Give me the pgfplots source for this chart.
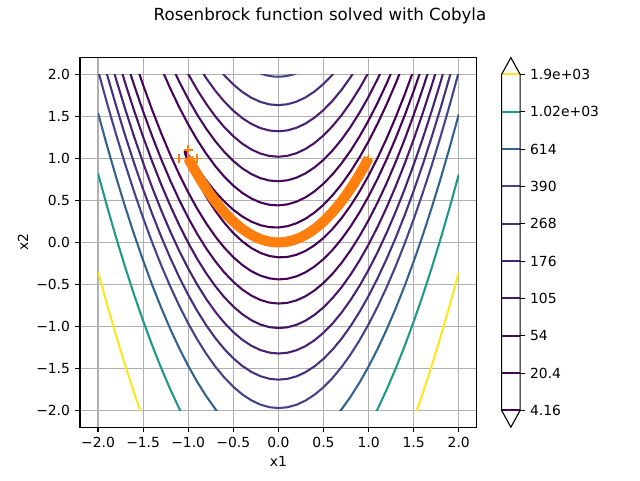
\documentclass[border=0pt]{standalone}
\usepackage{pgfplots}
\usepackage{pgfplotstable}
\pgfplotsset{compat=1.18}
\usepackage{fontspec}
\setmainfont{DejaVu Sans}
\definecolor{cA}{HTML}{440154}
\definecolor{cB}{HTML}{450457}
\definecolor{cC}{HTML}{460A5D}
\definecolor{cD}{HTML}{481467}
\definecolor{cE}{HTML}{482173}
\definecolor{cF}{HTML}{46307E}
\definecolor{cG}{HTML}{414487}
\definecolor{cH}{HTML}{33638D}
\definecolor{cI}{HTML}{1F988B}
\definecolor{cJ}{HTML}{FDE725}
\definecolor{mplorange}{HTML}{FF7F0E}
\definecolor{gridgray}{HTML}{B0B0B0}
\newcommand{\tf}{\fontsize{10.42}{12.5}\selectfont}
% optimizer iterates along the valley
\pgfplotstableread{
x y
-1 1
-0.99 0.9801
-0.98 0.9604
-0.97 0.9409
-0.96 0.9216
-0.95 0.9025
-0.94 0.8836
-0.93 0.8649
-0.92 0.8464
-0.91 0.8281
-0.9 0.81
-0.89 0.7921
-0.88 0.7744
-0.87 0.7569
-0.86 0.7396
-0.85 0.7225
-0.84 0.7056
-0.83 0.6889
-0.82 0.6724
-0.81 0.6561
-0.8 0.64
-0.79 0.6241
-0.78 0.6084
-0.77 0.5929
-0.76 0.5776
-0.75 0.5625
-0.74 0.5476
-0.73 0.5329
-0.72 0.5184
-0.71 0.5041
-0.7 0.49
-0.69 0.4761
-0.68 0.4624
-0.67 0.4489
-0.66 0.4356
-0.65 0.4225
-0.64 0.4096
-0.63 0.3969
-0.62 0.3844
-0.61 0.3721
-0.6 0.36
-0.59 0.3481
-0.58 0.3364
-0.57 0.3249
-0.56 0.3136
-0.55 0.3025
-0.54 0.2916
-0.53 0.2809
-0.52 0.2704
-0.51 0.2601
-0.5 0.25
-0.49 0.2401
-0.48 0.2304
-0.47 0.2209
-0.46 0.2116
-0.45 0.2025
-0.44 0.1936
-0.43 0.1849
-0.42 0.1764
-0.41 0.1681
-0.4 0.16
-0.39 0.1521
-0.38 0.1444
-0.37 0.1369
-0.36 0.1296
-0.35 0.1225
-0.34 0.1156
-0.33 0.1089
-0.32 0.1024
-0.31 0.0961
-0.3 0.09
-0.29 0.0841
-0.28 0.0784
-0.27 0.0729
-0.26 0.0676
-0.25 0.0625
-0.24 0.0576
-0.23 0.0529
-0.22 0.0484
-0.21 0.0441
-0.2 0.04
-0.19 0.0361
-0.18 0.0324
-0.17 0.0289
-0.16 0.0256
-0.15 0.0225
-0.14 0.0196
-0.13 0.0169
-0.12 0.0144
-0.11 0.0121
-0.1 0.01
-0.09 0.0081
-0.08 0.0064
-0.07 0.0049
-0.06 0.0036
-0.05 0.0025
-0.04 0.0016
-0.03 0.0009
-0.02 0.0004
-0.01 0.0001
0 0
0.01 0.0001
0.02 0.0004
0.03 0.0009
0.04 0.0016
0.05 0.0025
0.06 0.0036
0.07 0.0049
0.08 0.0064
0.09 0.0081
0.1 0.01
0.11 0.0121
0.12 0.0144
0.13 0.0169
0.14 0.0196
0.15 0.0225
0.16 0.0256
0.17 0.0289
0.18 0.0324
0.19 0.0361
0.2 0.04
0.21 0.0441
0.22 0.0484
0.23 0.0529
0.24 0.0576
0.25 0.0625
0.26 0.0676
0.27 0.0729
0.28 0.0784
0.29 0.0841
0.3 0.09
0.31 0.0961
0.32 0.1024
0.33 0.1089
0.34 0.1156
0.35 0.1225
0.36 0.1296
0.37 0.1369
0.38 0.1444
0.39 0.1521
0.4 0.16
0.41 0.1681
0.42 0.1764
0.43 0.1849
0.44 0.1936
0.45 0.2025
0.46 0.2116
0.47 0.2209
0.48 0.2304
0.49 0.2401
0.5 0.25
0.51 0.2601
0.52 0.2704
0.53 0.2809
0.54 0.2916
0.55 0.3025
0.56 0.3136
0.57 0.3249
0.58 0.3364
0.59 0.3481
0.6 0.36
0.61 0.3721
0.62 0.3844
0.63 0.3969
0.64 0.4096
0.65 0.4225
0.66 0.4356
0.67 0.4489
0.68 0.4624
0.69 0.4761
0.7 0.49
0.71 0.5041
0.72 0.5184
0.73 0.5329
0.74 0.5476
0.75 0.5625
0.76 0.5776
0.77 0.5929
0.78 0.6084
0.79 0.6241
0.8 0.64
0.81 0.6561
0.82 0.6724
0.83 0.6889
0.84 0.7056
0.85 0.7225
0.86 0.7396
0.87 0.7569
0.88 0.7744
0.89 0.7921
0.9 0.81
0.91 0.8281
0.92 0.8464
0.93 0.8649
0.94 0.8836
0.95 0.9025
0.96 0.9216
0.97 0.9409
0.98 0.9604
0.99 0.9801
1 1
}\pathdata
\begin{document}
\begin{tikzpicture}
\useasboundingbox (0,0) rectangle (480pt,360pt);
% ---------------- main axis (frame, grid, ticks) ----------------
\begin{axis}[
  at={(60pt,39.6pt)}, anchor=south west,
  scale only axis, width=297.6pt, height=277.2pt,
  xmin=-2.2, xmax=2.2, ymin=-2.2, ymax=2.2,
  xtick={-2,-1.5,-1,-0.5,0,0.5,1,1.5,2},
  ytick={-2,-1.5,-1,-0.5,0,0.5,1,1.5,2},
  xticklabels={−2.0,−1.5,−1.0,−0.5,0.0,0.5,1.0,1.5,2.0},
  yticklabels={−2.0,−1.5,−1.0,−0.5,0.0,0.5,1.0,1.5,2.0},
  tick pos=left, tick align=outside,
  major tick length=3.65pt,
  tick style={black, line width=0.83pt},
  grid=major,
  major grid style={draw=gridgray, line width=0.83pt},
  axis line style={line width=0.83pt},
  xticklabel shift=3.65pt,
  yticklabel shift=3.65pt,
  xticklabel style={font=\tf, anchor=north, inner sep=0pt},
  yticklabel style={font=\tf, anchor=east, inner sep=0pt},
]
\addplot[draw=none] coordinates {(0,0)};
\end{axis}
% ---------------- contour lines and optimizer path ----------------
\begin{axis}[
  at={(73.527pt,52.2pt)}, anchor=south west,
  scale only axis, width=270.545pt, height=252pt,
  xmin=-2, xmax=2, ymin=-2, ymax=2,
  hide axis, clip=true,
  every axis plot/.append style={line width=1.56pt, line join=round},
]
% level 4.16
\addplot[cA] coordinates {(1.4,2.16) (1.3,1.8917) (1.2,1.6430) (1.1,1.4137) (1.0,1.204) (0.9,1.0137) (0.8,0.8430) (0.7,0.6917) (0.6,0.56) (0.5,0.4477) (0.4,0.3549) (0.3,0.2816) (0.2,0.2276) (0.1,0.1930) (0,0.1778) (-0.1,0.1818) (-0.2,0.2049) (-0.3,0.2472) (-0.4,0.3083) (-0.5,0.3882) (-0.6,0.4865) (-0.7,0.6027) (-0.8,0.7359) (-0.9,0.8842) (-1.0,1.04) (-1.02,1.0686) (-1.03,1.0807) (-1.035,1.0849) (-1.0396,1.0808) (-1.035,1.0575) (-1.03,1.0411) (-1.02,1.0122) (-1.0,0.96) (-0.9,0.7358) (-0.8,0.5441) (-0.7,0.3773) (-0.6,0.2335) (-0.5,0.1118) (-0.4,0.0117) (-0.3,-0.0672) (-0.2,-0.1249) (-0.1,-0.1618) (0,-0.1778) (0.1,-0.1730) (0.2,-0.1476) (0.3,-0.1016) (0.4,-0.0349) (0.5,0.0523) (0.6,0.16) (0.7,0.2883) (0.8,0.4370) (0.9,0.6063) (1.0,0.796) (1.1,1.0063) (1.2,1.2370) (1.3,1.4883) (1.4,1.76) (1.5,2.0523)};
% level 20.4
\addplot[cB] coordinates {(-1.3,2.0787) (-1.2,1.8345) (-1.1,1.6099) (-1.0,1.405) (-0.9,1.2198) (-0.8,1.0543) (-0.7,0.9085) (-0.6,0.7824) (-0.5,0.6760) (-0.4,0.5894) (-0.3,0.5226) (-0.2,0.4754) (-0.1,0.4481) (0,0.4405) (0.1,0.4526) (0.2,0.4845) (0.3,0.5362) (0.4,0.6077) (0.5,0.6989) (0.6,0.8099) (0.7,0.9407) (0.8,1.0912) (0.9,1.2616) (1.0,1.4517) (1.1,1.6616) (1.2,1.8912) (1.3,2.1407)};
\addplot[cB] coordinates {(-1.6,2.1907) (-1.5,1.8738) (-1.4,1.5774) (-1.3,1.3013) (-1.2,1.0455) (-1.1,0.8101) (-1.0,0.595) (-0.9,0.4002) (-0.8,0.2257) (-0.7,0.0715) (-0.6,-0.0624) (-0.5,-0.1760) (-0.4,-0.2694) (-0.3,-0.3426) (-0.2,-0.3954) (-0.1,-0.4281) (0,-0.4405) (0.1,-0.4326) (0.2,-0.4045) (0.3,-0.3562) (0.4,-0.2877) (0.5,-0.1989) (0.6,-0.0899) (0.7,0.0393) (0.8,0.1888) (0.9,0.3584) (1.0,0.5483) (1.1,0.7584) (1.2,0.9888) (1.3,1.2393) (1.4,1.5101) (1.5,1.8011) (1.6,2.1123)};
% level 54
\addplot[cC] coordinates {(-1.2,2.1411) (-1.1,1.9142) (-1.0,1.7071) (-0.9,1.5199) (-0.8,1.3525) (-0.7,1.2049) (-0.6,1.0772) (-0.5,0.9694) (-0.4,0.8814) (-0.3,0.8133) (-0.2,0.7650) (-0.1,0.7366) (0,0.7280) (0.1,0.7393) (0.2,0.7705) (0.3,0.8215) (0.4,0.8924) (0.5,0.9831) (0.6,1.0938) (0.7,1.2242) (0.8,1.3746) (0.9,1.5448) (1.0,1.7348) (1.1,1.9448) (1.2,2.1746)};
\addplot[cC] coordinates {(-1.7,2.2066) (-1.6,1.8727) (-1.5,1.5590) (-1.4,1.2655) (-1.3,0.9921) (-1.2,0.7389) (-1.1,0.5058) (-1.0,0.2929) (-0.9,0.1001) (-0.8,-0.0725) (-0.7,-0.2249) (-0.6,-0.3572) (-0.5,-0.4694) (-0.4,-0.5614) (-0.3,-0.6333) (-0.2,-0.6850) (-0.1,-0.7166) (0,-0.7280) (0.1,-0.7193) (0.2,-0.6905) (0.3,-0.6415) (0.4,-0.5724) (0.5,-0.4831) (0.6,-0.3738) (0.7,-0.2442) (0.8,-0.0946) (0.9,0.0752) (1.0,0.2652) (1.1,0.4752) (1.2,0.7054) (1.3,0.9558) (1.4,1.2262) (1.5,1.5169) (1.6,1.8276) (1.7,2.1585)};
% level 105
\addplot[cD] coordinates {(-1.1,2.2129) (-1.0,2.005) (-0.9,1.8169) (-0.8,1.6488) (-0.7,1.5005) (-0.6,1.3721) (-0.5,1.2637) (-0.4,1.1751) (-0.3,1.1064) (-0.2,1.0577) (-0.1,1.0288) (0,1.0198) (0.1,1.0307) (0.2,1.0616) (0.3,1.1123) (0.4,1.1829) (0.5,1.2735) (0.6,1.3839) (0.7,1.5143) (0.8,1.6645) (0.9,1.8347) (1.0,2.0247) (1.1,2.2347)};
\addplot[cD] coordinates {(-1.8,2.2543) (-1.7,1.9015) (-1.6,1.5688) (-1.5,1.2563) (-1.4,0.9638) (-1.3,0.6915) (-1.2,0.4392) (-1.1,0.2071) (-1.0,-0.0050) (-0.9,-0.1969) (-0.8,-0.3688) (-0.7,-0.5205) (-0.6,-0.6521) (-0.5,-0.7637) (-0.4,-0.8551) (-0.3,-0.9264) (-0.2,-0.9777) (-0.1,-1.0088) (0,-1.0198) (0.1,-1.0107) (0.2,-0.9816) (0.3,-0.9323) (0.4,-0.8629) (0.5,-0.7735) (0.6,-0.6639) (0.7,-0.5343) (0.8,-0.3845) (0.9,-0.2147) (1.0,-0.0247) (1.1,0.1853) (1.2,0.4155) (1.3,0.6657) (1.4,0.9361) (1.5,1.2265) (1.6,1.5371) (1.7,1.8677) (1.8,2.2184)};
% level 176
\addplot[cE] coordinates {(-0.9,2.1230) (-0.8,1.9544) (-0.7,1.8057) (-0.6,1.6770) (-0.5,1.5681) (-0.4,1.4792) (-0.3,1.4103) (-0.2,1.3612) (-0.1,1.3321) (0,1.3229) (0.1,1.3336) (0.2,1.3642) (0.3,1.4148) (0.4,1.4853) (0.5,1.5757) (0.6,1.6860) (0.7,1.8163) (0.8,1.9665) (0.9,2.1366)};
\addplot[cE] coordinates {(-1.9,2.3154) (-1.8,1.9432) (-1.7,1.5911) (-1.6,1.2591) (-1.5,0.9471) (-1.4,0.6552) (-1.3,0.3834) (-1.2,0.1317) (-1.1,-0.0999) (-1.0,-0.3115) (-0.9,-0.5030) (-0.8,-0.6744) (-0.7,-0.8257) (-0.6,-0.9570) (-0.5,-1.0681) (-0.4,-1.1592) (-0.3,-1.2303) (-0.2,-1.2812) (-0.1,-1.3121) (0,-1.3229) (0.1,-1.3136) (0.2,-1.2842) (0.3,-1.2348) (0.4,-1.1653) (0.5,-1.0757) (0.6,-0.9660) (0.7,-0.8363) (0.8,-0.6865) (0.9,-0.5166) (1.0,-0.3266) (1.1,-0.1166) (1.2,0.1135) (1.3,0.3637) (1.4,0.6340) (1.5,0.9243) (1.6,1.2347) (1.7,1.5652) (1.8,1.9158) (1.9,2.2864)};
% level 268
\addplot[cF] coordinates {(-0.7,2.1182) (-0.6,1.9892) (-0.5,1.8802) (-0.4,1.7911) (-0.3,1.7219) (-0.2,1.6727) (-0.1,1.6434) (0,1.6340) (0.1,1.6446) (0.2,1.6751) (0.3,1.7256) (0.4,1.7960) (0.5,1.8863) (0.6,1.9966) (0.7,2.1268)};
\addplot[cF] coordinates {(-2.0,2.3907) (-1.9,1.9988) (-1.8,1.6271) (-1.7,1.2753) (-1.6,0.9437) (-1.5,0.6321) (-1.4,0.3406) (-1.3,0.0692) (-1.2,-0.1822) (-1.1,-0.4135) (-1.0,-0.6248) (-0.9,-0.8160) (-0.8,-0.9871) (-0.7,-1.1382) (-0.6,-1.2692) (-0.5,-1.3802) (-0.4,-1.4711) (-0.3,-1.5419) (-0.2,-1.5927) (-0.1,-1.6234) (0,-1.6340) (0.1,-1.6246) (0.2,-1.5951) (0.3,-1.5456) (0.4,-1.4760) (0.5,-1.3863) (0.6,-1.2766) (0.7,-1.1468) (0.8,-0.9970) (0.9,-0.8271) (1.0,-0.6371) (1.1,-0.4271) (1.2,-0.1970) (1.3,0.0532) (1.4,0.3234) (1.5,0.6137) (1.6,0.9240) (1.7,1.2544) (1.8,1.6049) (1.9,1.9754) (2.0,2.3660)};
% level 390
\addplot[cG] coordinates {(-0.2,2.0112) (-0.15,1.9940) (-0.1,1.9818) (-0.05,1.9746) (0,1.9723) (0.05,1.9751) (0.1,1.9828) (0.15,1.9955) (0.2,2.0132)};
\addplot[cG] coordinates {(-2.0,2.0481) (-1.9,1.6566) (-1.8,1.2851) (-1.7,0.9337) (-1.6,0.6023) (-1.5,0.2910) (-1.4,-0.0002) (-1.3,-0.2714) (-1.2,-0.5225) (-1.1,-0.7536) (-1.0,-0.9647) (-0.9,-1.1557) (-0.8,-1.3266) (-0.7,-1.4775) (-0.6,-1.6083) (-0.5,-1.7191) (-0.4,-1.8099) (-0.3,-1.8806) (-0.2,-1.9312) (-0.1,-1.9618) (0,-1.9723) (0.1,-1.9628) (0.2,-1.9332) (0.3,-1.8836) (0.4,-1.8139) (0.5,-1.7242) (0.6,-1.6144) (0.7,-1.4846) (0.8,-1.3347) (0.9,-1.1648) (1.0,-0.9748) (1.1,-0.7648) (1.2,-0.5347) (1.3,-0.2846) (1.4,-0.0144) (1.5,0.2758) (1.6,0.5861) (1.7,0.9164) (1.8,1.2668) (1.9,1.6372) (2.0,2.0277)};
% level 614
\addplot[cH] coordinates {(-2.0,1.5403) (-1.9,1.1491) (-1.8,0.7780) (-1.7,0.4269) (-1.6,0.0958) (-1.5,-0.2153) (-1.4,-0.5063) (-1.3,-0.7772) (-1.2,-1.0281) (-1.1,-1.2590) (-1.0,-1.4698) (-0.9,-1.6606) (-0.8,-1.8314) (-0.7,-1.9821) (-0.6,-2.1127)};
\addplot[cH] coordinates {(0.6,-2.1176) (0.7,-1.9877) (0.8,-1.8378) (0.9,-1.6679) (1.0,-1.4779) (1.1,-1.2679) (1.2,-1.0378) (1.3,-0.7877) (1.4,-0.5176) (1.5,-0.2274) (1.6,0.0828) (1.7,0.4131) (1.8,0.7634) (1.9,1.1337) (2.0,1.5241)};
% level 1020
\addplot[cI] coordinates {(-2.0,0.8204) (-1.9,0.4295) (-1.8,0.0586) (-1.7,-0.2923) (-1.6,-0.6231) (-1.5,-0.9339) (-1.4,-1.2247) (-1.3,-1.4954) (-1.2,-1.7462) (-1.1,-1.9768) (-1.0,-2.1875)};
\addplot[cI] coordinates {(1.0,-2.1937) (1.1,-1.9837) (1.2,-1.7537) (1.3,-1.5036) (1.4,-1.2335) (1.5,-0.9434) (1.6,-0.6332) (1.7,-0.3030) (1.8,0.0473) (1.9,0.4175) (2.0,0.8078)};
% level 1900
\addplot[cJ] coordinates {(-2.0,-0.3486) (-1.9,-0.7392) (-1.8,-1.1099) (-1.7,-1.4605) (-1.6,-1.7911) (-1.5,-2.1017)};
\addplot[cJ] coordinates {(1.5,-2.1086) (1.6,-1.7985) (1.7,-1.4683) (1.8,-1.1182) (1.9,-0.7480) (2.0,-0.3578)};
% optimizer iterates: dense band along the valley, and the first trial points
\addplot[mplorange, line width=7.6pt, line cap=butt, line join=round] table {\pathdata};
\addplot[only marks, mark=+, mark size=3.4pt, mplorange, mark options={line width=1.2pt}] table {\pathdata};
\addplot[only marks, mark=+, mark size=3.4pt, mplorange, mark options={line width=1.2pt}] coordinates {(-1,1) (-1,1.1) (-1.1,1) (-0.9,1)};
\end{axis}
% ---------------- colorbar ----------------
\begin{axis}[
  at={(376.2pt,52.2pt)}, anchor=south west,
  scale only axis, width=13.9pt, height=252pt,
  xmin=0, xmax=1, ymin=0, ymax=9,
  clip=false,
  xtick=\empty,
  ytick={0,1,2,3,4,5,6,7,8,9},
  yticklabels={4.16,20.4,54,105,176,268,390,614,1.02e+03,1.9e+03},
  ytick pos=right, yticklabel pos=right,
  tick align=outside,
  major tick length=3.65pt,
  tick style={black, line width=0.83pt},
  yticklabel shift=3.65pt,
  yticklabel style={font=\tf, anchor=west, inner sep=0pt},
  axis line style={draw=none},
]
\addplot[cA, line width=1.56pt] coordinates {(0,0) (1,0)};
\addplot[cB, line width=1.56pt] coordinates {(0,1) (1,1)};
\addplot[cC, line width=1.56pt] coordinates {(0,2) (1,2)};
\addplot[cD, line width=1.56pt] coordinates {(0,3) (1,3)};
\addplot[cE, line width=1.56pt] coordinates {(0,4) (1,4)};
\addplot[cF, line width=1.56pt] coordinates {(0,5) (1,5)};
\addplot[cG, line width=1.56pt] coordinates {(0,6) (1,6)};
\addplot[cH, line width=1.56pt] coordinates {(0,7) (1,7)};
\addplot[cI, line width=1.56pt] coordinates {(0,8) (1,8)};
\addplot[cJ, line width=1.56pt] coordinates {(0,9) (1,9)};
\addplot[black, line width=0.83pt, line join=miter] coordinates {(0,4.5) (0,9) (0.5,9.45) (1,9) (1,0) (0.5,-0.45) (0,0) (0,4.5)};
\end{axis}
% ---------------- texts ----------------
\node[anchor=base, inner sep=0pt, font=\fontsize{12.5}{15}\selectfont] at (240pt,344.5pt) {Rosenbrock function solved with Cobyla};
\node[anchor=base, inner sep=0pt, font=\tf] at (208.8pt,9.9pt) {x1};
\node[anchor=base, inner sep=0pt, font=\tf, rotate=90] at (21pt,178.2pt) {x2};
\end{tikzpicture}
\end{document}
